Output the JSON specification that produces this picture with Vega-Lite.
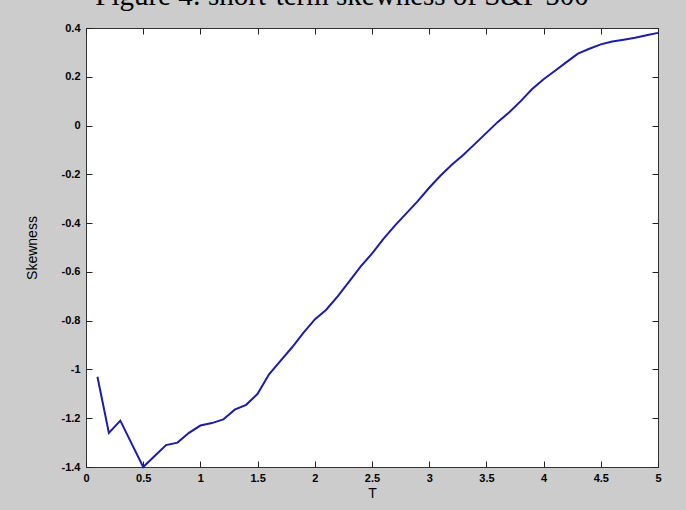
{
  "$schema": "https://vega.github.io/schema/vega-lite/v6.json",
  "autosize": {"type": "none"},
  "width": 572,
  "height": 439,
  "padding": {"left": 86, "top": 28, "right": 28, "bottom": 43},
  "background": "#cccccc",
  "title": {
    "text": "Figure 4: short-term skewness of S&P 500",
    "font": "Liberation Serif",
    "fontSize": 29,
    "fontWeight": "normal",
    "color": "#000000",
    "anchor": "middle",
    "dx": -30,
    "dy": 24,
    "offset": 12,
    "baseline": "alphabetic"
  },
  "config": {
    "view": {"fill": "white", "stroke": "#333333", "strokeWidth": 1},
    "axis": {
      "labelFont": "Liberation Sans",
      "labelFontWeight": "bold",
      "labelFontSize": 11,
      "labelColor": "#000000",
      "ticks": true,
      "tickColor": "#222222",
      "tickWidth": 1,
      "tickSize": 6,
      "offset": -6,
      "domain": false,
      "grid": false,
      "labelFlush": false,
      "labelOverlap": false,
      "titleFont": "Liberation Sans",
      "titleFontWeight": "normal",
      "titleFontSize": 14,
      "titleColor": "#000000",
      "zindex": 1
    }
  },
  "data": {
    "values": [
      {"T": 0.1, "S": -1.03}, {"T": 0.2, "S": -1.26}, {"T": 0.3, "S": -1.21}, {"T": 0.4, "S": -1.305},
      {"T": 0.5, "S": -1.40}, {"T": 0.6, "S": -1.355}, {"T": 0.7, "S": -1.31}, {"T": 0.8, "S": -1.30},
      {"T": 0.9, "S": -1.26}, {"T": 1.0, "S": -1.23}, {"T": 1.1, "S": -1.22}, {"T": 1.2, "S": -1.205},
      {"T": 1.3, "S": -1.165}, {"T": 1.4, "S": -1.145}, {"T": 1.5, "S": -1.10}, {"T": 1.6, "S": -1.02},
      {"T": 1.7, "S": -0.965}, {"T": 1.8, "S": -0.91}, {"T": 1.9, "S": -0.85}, {"T": 2.0, "S": -0.795},
      {"T": 2.1, "S": -0.755}, {"T": 2.2, "S": -0.70}, {"T": 2.3, "S": -0.64}, {"T": 2.4, "S": -0.578},
      {"T": 2.5, "S": -0.525}, {"T": 2.6, "S": -0.465}, {"T": 2.7, "S": -0.41}, {"T": 2.8, "S": -0.36},
      {"T": 2.9, "S": -0.31}, {"T": 3.0, "S": -0.255}, {"T": 3.1, "S": -0.205}, {"T": 3.2, "S": -0.16},
      {"T": 3.3, "S": -0.12}, {"T": 3.4, "S": -0.075}, {"T": 3.5, "S": -0.03}, {"T": 3.6, "S": 0.015},
      {"T": 3.7, "S": 0.055}, {"T": 3.8, "S": 0.10}, {"T": 3.9, "S": 0.15}, {"T": 4.0, "S": 0.19},
      {"T": 4.1, "S": 0.225}, {"T": 4.2, "S": 0.26}, {"T": 4.3, "S": 0.295}, {"T": 4.4, "S": 0.315},
      {"T": 4.5, "S": 0.333}, {"T": 4.6, "S": 0.345}, {"T": 4.7, "S": 0.352}, {"T": 4.8, "S": 0.36},
      {"T": 4.9, "S": 0.37}, {"T": 5.0, "S": 0.38}
    ]
  },
  "layer": [
    {
      "mark": {"type": "line", "color": "#1c1ca6", "strokeWidth": 2},
      "encoding": {
        "x": {
          "field": "T", "type": "quantitative",
          "scale": {"domain": [0, 5], "nice": false, "zero": false},
          "axis": {
            "orient": "bottom", "title": "T",
            "values": [0, 0.5, 1, 1.5, 2, 2.5, 3, 3.5, 4, 4.5, 5],
            "labelExpr": "'' + datum.value",
            "labelPadding": 5, "titlePadding": 3
          }
        },
        "y": {
          "field": "S", "type": "quantitative",
          "scale": {"domain": [-1.4, 0.4], "nice": false, "zero": false},
          "axis": {
            "orient": "left", "title": "Skewness",
            "values": [-1.4, -1.2, -1, -0.8, -0.6, -0.4, -0.2, 0, 0.2, 0.4],
            "labelExpr": "'' + datum.value",
            "labelPadding": 6, "titlePadding": 22
          }
        }
      }
    },
    {
      "mark": {"type": "line", "strokeOpacity": 0},
      "encoding": {
        "x": {
          "field": "T", "type": "quantitative",
          "axis": {
            "orient": "top", "title": null, "labels": false,
            "values": [0, 0.5, 1, 1.5, 2, 2.5, 3, 3.5, 4, 4.5, 5]
          }
        },
        "y": {
          "field": "S", "type": "quantitative",
          "axis": {
            "orient": "right", "title": null, "labels": false,
            "values": [-1.4, -1.2, -1, -0.8, -0.6, -0.4, -0.2, 0, 0.2, 0.4]
          }
        }
      }
    }
  ],
  "resolve": {"axis": {"x": "independent", "y": "independent"}}
}
